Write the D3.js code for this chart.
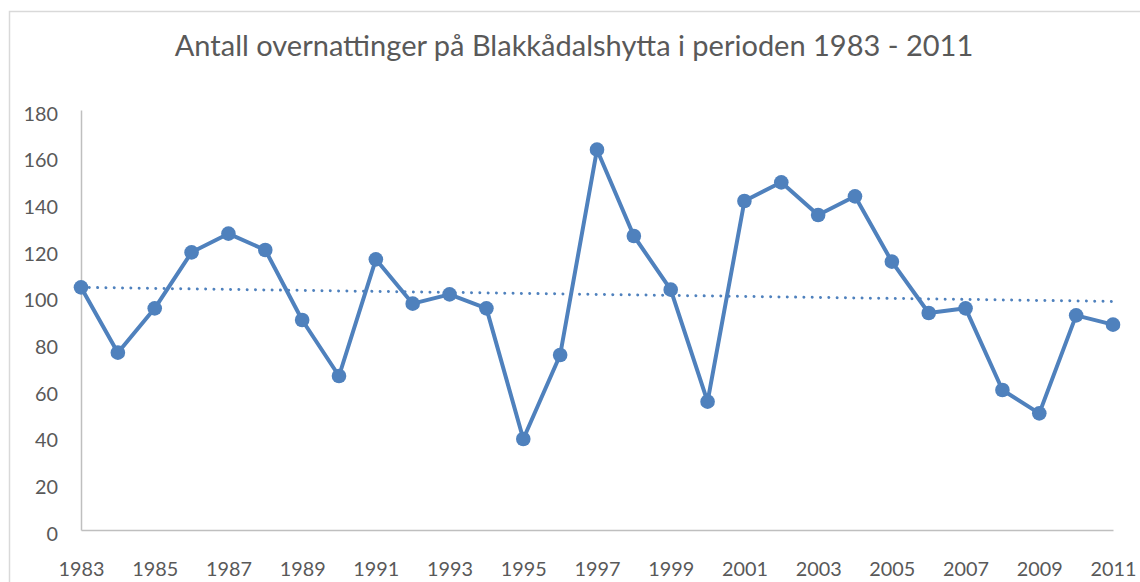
<!DOCTYPE html>
<html>
<head>
<meta charset="utf-8">
<script src="https://cdn.jsdelivr.net/npm/d3@7"></script>
<style>
  html, body { margin: 0; padding: 0; background: #fff; }
  svg { display: block; }
  text { font-family: Lato, "Open Sans", sans-serif; fill: #595959; }
</style>
</head>
<body>
<svg id="chart" width="1140" height="582"></svg>
<script>
// ---- data ----
const title = "Antall overnattinger på Blakkådalshytta i perioden 1983 - 2011";
const years = [1983,1984,1985,1986,1987,1988,1989,1990,1991,1992,1993,1994,1995,1996,1997,
               1998,1999,2000,2001,2002,2003,2004,2005,2006,2007,2008,2009,2010,2011];
const stays = [104,76,95,119,127,120,90,66,116,97,101,95,39,75,163,
               126,103,55,141,149,135,143,115,93,95,60,50,92,88];
const yTicks = [0,20,40,60,80,100,120,140,160,180];
const xTicks = [1983,1985,1987,1989,1991,1993,1995,1997,1999,2001,2003,2005,2007,2009,2011];

(function () {
// ---- layout ----
const svg = d3.select("#chart");
const pLeft = 81, pRight = 1113, pTop = 110, pBottom = 530;
const blue = "#4F81BD";

// outer chart border (cropped by the picture)
svg.append("rect").attr("x", 9.5).attr("y", 11.5).attr("width", 1160).attr("height", 620)
  .attr("fill", "none").attr("stroke", "#D9D9D9").attr("stroke-width", 1.5);

const x = d3.scaleLinear().domain([years[0], years[years.length-1]]).range([pLeft, pRight]);
const y = d3.scaleLinear().domain([0, 180]).range([pBottom, pTop]);

// helper to fit font size to a target width
function fit(sel, targetWidth, baseSize) {
  sel.style("font-size", baseSize + "px");
  const w = sel.node().getComputedTextLength();
  sel.style("font-size", (baseSize * targetWidth / w) + "px");
}

// title
const t = svg.append("text").attr("x", 574).attr("y", 56).attr("text-anchor", "middle").text(title);
fit(t, 799, 30);

// measure label font size
const probe = svg.append("text").text("1983");
fit(probe, 46, 20);
const labelSize = probe.style("font-size");
probe.remove();

// y axis
const yAxis = svg.append("g").attr("transform", `translate(${pLeft},0)`)
  .call(d3.axisLeft(y).tickValues(yTicks).tickSize(0).tickPadding(23).tickSizeOuter(0));
yAxis.select(".domain").attr("stroke", "#BFBFBF").attr("stroke-width", 1.5);
yAxis.selectAll("text").attr("dy", null).attr("y", 5).attr("dominant-baseline", "middle")
  .style("font-size", labelSize).style("font-family", "Lato, 'Open Sans', sans-serif").attr("fill", "#595959");

// x axis
const xAxis = svg.append("g").attr("transform", `translate(0,${pBottom})`)
  .call(d3.axisBottom(x).tickValues(xTicks).tickFormat(d3.format("d")).tickSize(0).tickSizeOuter(0));
xAxis.select(".domain").attr("stroke", "#BFBFBF").attr("stroke-width", 1.5);
xAxis.selectAll("text").attr("dy", null).attr("y", 46)
  .style("font-size", labelSize).style("font-family", "Lato, 'Open Sans', sans-serif").attr("fill", "#595959");

// linear trend line (least squares)
const n = years.length;
const mx = d3.mean(years), my = d3.mean(stays);
let sxy = 0, sxx = 0;
for (let i = 0; i < n; i++) { sxy += (years[i]-mx)*(stays[i]-my); sxx += (years[i]-mx)**2; }
const slope = sxy / sxx, icpt = my - slope * mx;
const trend = [years[0], years[n-1]].map(yr => [yr, icpt + slope * yr]);

// series line
const data = years.map((yr, i) => [yr, stays[i]]);
svg.append("path").datum(data)
  .attr("d", d3.line().x(d => x(d[0])).y(d => y(d[1])))
  .attr("fill", "none").attr("stroke", blue).attr("stroke-width", 4)
  .attr("stroke-linejoin", "round");

svg.append("path").datum(trend)
  .attr("d", d3.line().x(d => x(d[0])).y(d => y(d[1])))
  .attr("fill", "none").attr("stroke", blue).attr("stroke-width", 3)
  .attr("stroke-linecap", "round").attr("stroke-dasharray", "0.01 8.3");

svg.append("g").selectAll("circle").data(data).join("circle")
  .attr("cx", d => x(d[0])).attr("cy", d => y(d[1])).attr("r", 7.3)
  .attr("fill", blue);
})();
</script>
</body>
</html>
